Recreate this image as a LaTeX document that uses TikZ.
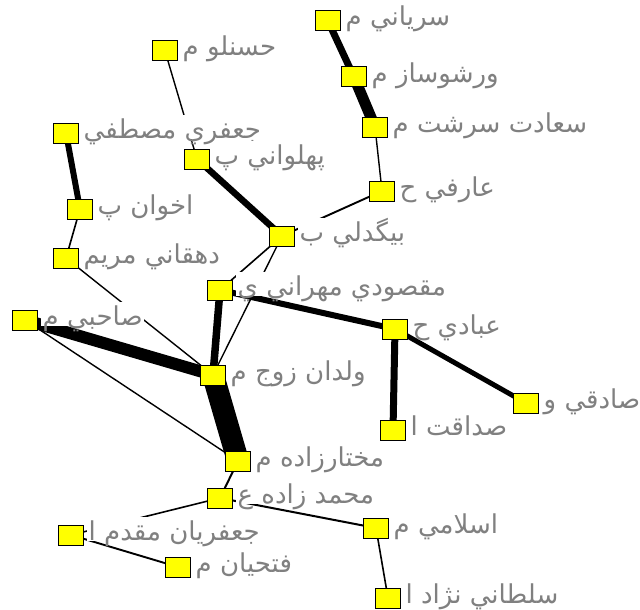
\documentclass[tikz,border=0pt]{standalone}
\usepackage{fontspec}
\newfontfamily\arabicfont[Script=Arabic]{DejaVu Sans}
\TeXXeTstate=1
\pgfdeclarelayer{edges}
\pgfdeclarelayer{labels}
\pgfsetlayers{edges,labels,main}
\definecolor{labgray}{RGB}{128,128,128}
\definecolor{nodeyellow}{RGB}{255,255,0}
\tikzset{
  sq/.style={draw=black, line width=1pt, fill=nodeyellow, minimum width=25pt, minimum height=20pt, inner sep=0pt},
  lab/.style={fill=white, text=labgray, inner xsep=1.5pt, inner ysep=0pt, text height=23pt, text depth=1pt, anchor=base west, font=\arabicfont\fontsize{26}{28}\selectfont},
  ed/.style={line cap=butt, draw=black}
}
\newcommand{\vnode}[4]{%
  \node[sq] (#1) at (#2,#3) {};
  \begin{pgfonlayer}{labels}
  \node[lab] (#1-l) at ([xshift=16pt,yshift=-5pt]#1.center) {#4};
  \end{pgfonlayer}}
\begin{document}
\begin{tikzpicture}[x=1pt,y=-1pt]
\useasboundingbox (0,0) rectangle (640,610);
\vnode{sur}{328}{21}{\beginR سرياني م\endR}
\vnode{var}{354}{77}{\beginR ورشوساز م\endR}
\vnode{saa}{375}{127}{\beginR سعادت سرشت م\endR}
\vnode{are}{382}{191}{\beginR عارفي ح\endR}
\vnode{has}{165}{51}{\beginR حسنلو م\endR}
\vnode{jam}{66}{133}{\beginR جعفري مصطفي\endR}
\vnode{pah}{197}{159}{\beginR پهلواني پ\endR}
\vnode{akh}{80}{209}{\beginR اخوان پ\endR}
\vnode{big}{282}{236}{\beginR بيگدلي ب\endR}
\vnode{deh}{66}{258}{\beginR دهقاني مريم\endR}
\vnode{mag}{220}{290}{\beginR مقصودي مهراني ي\endR}
\vnode{sah}{25}{320}{\beginR صاحبي م\endR}
\vnode{eba}{395}{329}{\beginR عبادي ح\endR}
\vnode{val}{213}{375}{\beginR ولدان زوج م\endR}
\vnode{sad}{526}{403}{\beginR صادقي و\endR}
\vnode{sed}{393}{430}{\beginR صداقت ا\endR}
\vnode{mok}{238}{461}{\beginR مختارزاده م\endR}
\vnode{moh}{220}{498}{\beginR محمد زاده ع\endR}
\vnode{jaf}{71}{535}{\beginR جعفريان مقدم ا\endR}
\vnode{esl}{376}{528}{\beginR اسلامي م\endR}
\vnode{fat}{178}{567}{\beginR فتحيان م\endR}
\vnode{sol}{388}{598}{\beginR سلطاني نژاد ا\endR}
\begin{pgfonlayer}{edges}
\draw[ed, line width=7pt] (sur.center) -- (var.center);
\draw[ed, line width=11pt] (var.center) -- (saa.center);
\draw[ed, line width=1.4pt] (saa.center) -- (are.center);
\draw[ed, line width=1.9pt] (are.center) -- (big.center);
\draw[ed, line width=1.4pt] (has.center) -- (pah.center);
\draw[ed, line width=6.5pt] (pah.center) -- (big.center);
\draw[ed, line width=6pt] (jam.center) -- (akh.center);
\draw[ed, line width=1.6pt] (akh.center) -- (deh.center);
\draw[ed, line width=1.4pt] (deh.center) -- (val.center);
\draw[ed, line width=1.6pt] (big.center) -- (mag.center);
\draw[ed, line width=1.4pt] (big.center) -- (val.center);
\draw[ed, line width=7.5pt] (mag.center) -- (val.center);
\draw[ed, line width=6pt] (mag.center) -- (eba.center);
\draw[ed, line width=5pt] (eba.center) -- (sad.center);
\draw[ed, line width=7pt] (eba.center) -- (sed.center);
\draw[ed, line width=12pt] (sah.center) -- (val.center);
\draw[ed, line width=1.4pt] (sah.center) -- (mok.center);
\draw[ed, line width=22pt] (val.center) -- (mok.center);
\draw[ed, line width=2pt] (mok.center) -- (moh.center);
\draw[ed, line width=1.6pt] (moh.center) -- (jaf.center);
\draw[ed, line width=2pt] (moh.center) -- (esl.center);
\draw[ed, line width=1.9pt] (jaf.center) -- (fat.center);
\draw[ed, line width=1.6pt] (esl.center) -- (sol.center);
\end{pgfonlayer}
\end{tikzpicture}
\end{document}
